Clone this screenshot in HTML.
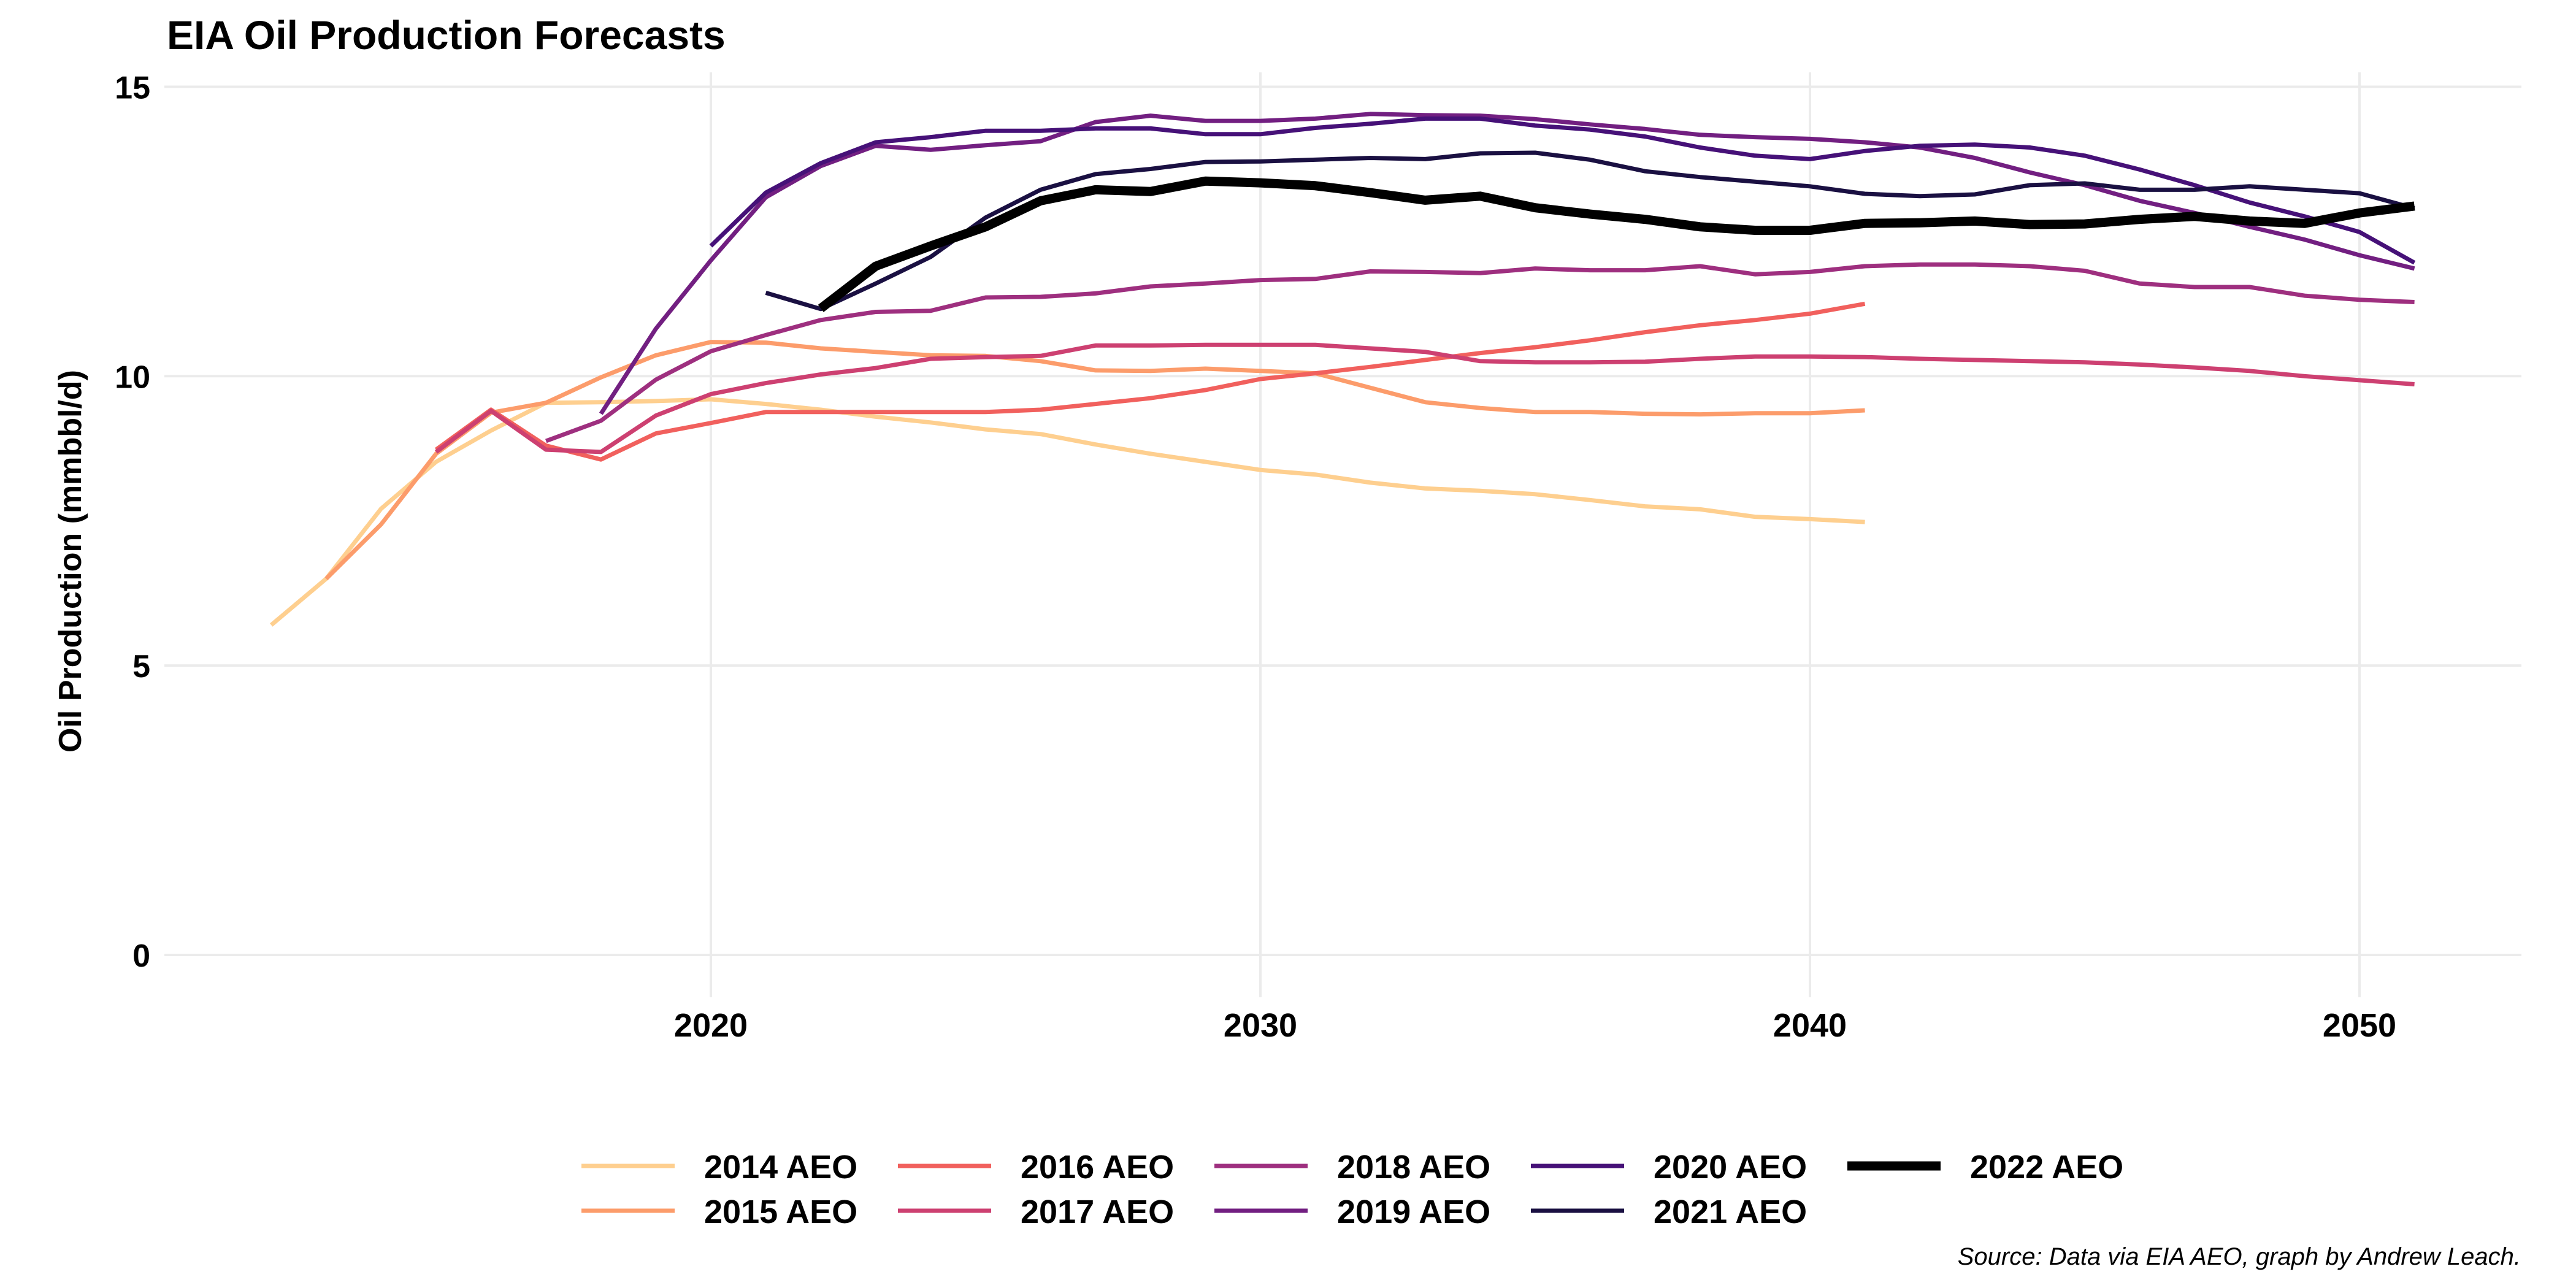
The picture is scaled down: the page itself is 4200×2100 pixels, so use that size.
<!DOCTYPE html>
<html><head><meta charset="utf-8">
<style>
html,body{margin:0;padding:0;background:#fff;}
svg{display:block;font-family:"Liberation Sans",Arial,sans-serif;}
</style></head>
<body>
<svg id="chart" width="4200" height="2100" viewBox="0 0 4200 2100" xmlns="http://www.w3.org/2000/svg">
<rect width="4200" height="2100" fill="#fff"/>
<text x="272" y="80" font-size="66" font-weight="bold" fill="#000">EIA Oil Production Forecasts</text>
<g id="grid"></g>
<g id="series"></g>
<g id="axes"></g>
<text transform="translate(132,915) rotate(-90)" text-anchor="middle" font-size="52" font-weight="bold" fill="#000">Oil Production (mmbbl/d)</text>
<g id="legend"></g>
<text x="4110" y="2062" text-anchor="end" font-size="40" font-style="italic" fill="#000">Source: Data via EIA AEO, graph by Andrew Leach.</text>
</svg>
<script>
const seriesNames = ["2014 AEO","2015 AEO","2016 AEO","2017 AEO","2018 AEO","2019 AEO","2020 AEO","2021 AEO","2022 AEO"];
const seriesColors = ["#FECF8F","#FC9C6B","#F1605D","#CD4071","#9E2F7F","#721F81","#461178","#1A1042","#000000"];
const seriesStart = [2012,2013,2015,2015,2017,2018,2020,2021,2022];
const aeo2014 = [5.7,6.5,7.71,8.52,9.06,9.54,9.55,9.57,9.6,9.52,9.42,9.3,9.2,9.08,9.0,8.82,8.66,8.52,8.38,8.3,8.16,8.06,8.02,7.96,7.86,7.75,7.7,7.57,7.53,7.48];
const aeo2015 = [6.5,7.44,8.66,9.37,9.54,9.98,10.36,10.59,10.58,10.48,10.42,10.36,10.35,10.26,10.1,10.09,10.13,10.09,10.05,9.8,9.55,9.45,9.38,9.38,9.35,9.34,9.36,9.36,9.41];
const aeo2016 = [8.73,9.42,8.8,8.56,9.01,9.19,9.38,9.38,9.38,9.38,9.38,9.42,9.52,9.62,9.76,9.95,10.05,10.16,10.28,10.4,10.5,10.62,10.76,10.88,10.97,11.08,11.25];
const aeo2017 = [8.69,9.4,8.73,8.69,9.32,9.69,9.88,10.03,10.14,10.3,10.33,10.35,10.53,10.53,10.54,10.54,10.54,10.48,10.42,10.26,10.24,10.24,10.25,10.3,10.34,10.34,10.33,10.3,10.28,10.26,10.24,10.2,10.15,10.09,10.0,9.93,9.86];
const aeo2018 = [8.88,9.23,9.94,10.43,10.71,10.97,11.11,11.13,11.36,11.37,11.43,11.55,11.6,11.66,11.68,11.81,11.8,11.78,11.86,11.83,11.83,11.9,11.76,11.8,11.9,11.93,11.93,11.9,11.82,11.6,11.54,11.54,11.39,11.32,11.28];
const aeo2019 = [9.35,10.82,12.0,13.09,13.63,13.98,13.91,13.99,14.06,14.39,14.5,14.41,14.41,14.45,14.53,14.51,14.5,14.44,14.35,14.27,14.17,14.13,14.1,14.04,13.95,13.77,13.52,13.3,13.03,12.82,12.58,12.36,12.09,11.86];
const aeo2020 = [12.25,13.17,13.68,14.04,14.13,14.24,14.24,14.28,14.28,14.18,14.18,14.29,14.36,14.45,14.45,14.33,14.26,14.14,13.95,13.81,13.75,13.89,13.98,14.0,13.95,13.81,13.57,13.3,13.0,12.76,12.49,11.96];
const aeo2021 = [11.44,11.16,11.6,12.06,12.74,13.22,13.49,13.58,13.7,13.71,13.74,13.77,13.75,13.85,13.86,13.74,13.54,13.44,13.36,13.28,13.15,13.11,13.14,13.3,13.33,13.22,13.22,13.28,13.22,13.16,12.9];
const aeo2022 = [11.17,11.9,12.25,12.58,13.03,13.22,13.19,13.37,13.34,13.29,13.17,13.04,13.11,12.91,12.8,12.71,12.58,12.52,12.52,12.64,12.65,12.68,12.62,12.63,12.71,12.76,12.68,12.64,12.82,12.94];
const seriesValues = [aeo2014,aeo2015,aeo2016,aeo2017,aeo2018,aeo2019,aeo2020,aeo2021,aeo2022];
const xTicks = [2020,2030,2040,2050];
const yTicks = [0,5,10,15];

const NS = "http://www.w3.org/2000/svg";
const xs = yr => 1159 + (yr - 2020) * 89.6;
const ys = v => 1557 - v * 94.37;
const PL = 268, PR = 4111, PT = 118, PB = 1626;
function mk(tag, attrs, parent){ const e = document.createElementNS(NS, tag); for (const k in attrs) e.setAttribute(k, attrs[k]); parent.appendChild(e); return e; }

const grid = document.getElementById("grid");
const axes = document.getElementById("axes");
yTicks.forEach(t => {
  const l = mk("line", {x1:PL, x2:PR, y1:ys(t), y2:ys(t), stroke:"#ebebeb", "stroke-width":4}, grid);
  
  
  const tx = mk("text", {x:245, y:ys(t)+19, "text-anchor":"end", "font-size":52, "font-weight":"bold", fill:"#000"}, axes);
  tx.textContent = t;
  
  
});
xTicks.forEach(t => {
  const l = mk("line", {x1:xs(t), x2:xs(t), y1:PT, y2:PB, stroke:"#ebebeb", "stroke-width":4}, grid);
  
  
  const tx = mk("text", {x:xs(t), y:1690, "text-anchor":"middle", "font-size":54, "font-weight":"bold", fill:"#000"}, axes);
  tx.textContent = t;
  
  
});

const sg = document.getElementById("series");
seriesValues.forEach((vals, i) => {
  const pts = vals.map((v, j) => xs(seriesStart[i] + j).toFixed(1) + "," + ys(v).toFixed(1)).join(" ");
  const p = mk("polyline", {points:pts, fill:"none", stroke:seriesColors[i], "stroke-width": i === 8 ? 15 : 7, "stroke-linejoin":"round"}, sg);
  
  
});

const lg = document.getElementById("legend");
seriesNames.forEach((n, i) => {
  const col = Math.floor(i / 2), row = i % 2;
  const kx = 948 + col * 516, ky = row === 0 ? 1901 : 1974;
  const g = mk("g", {}, lg);
  
  
  mk("line", {x1:kx, x2:kx+152, y1:ky, y2:ky, stroke:seriesColors[i], "stroke-width": i === 8 ? 15 : 7}, g);
  const tx = mk("text", {x:kx+200, y:ky+20, "font-size":54, "font-weight":"bold", fill:"#000"}, g);
  tx.textContent = n;
});
</script>
</body></html>
